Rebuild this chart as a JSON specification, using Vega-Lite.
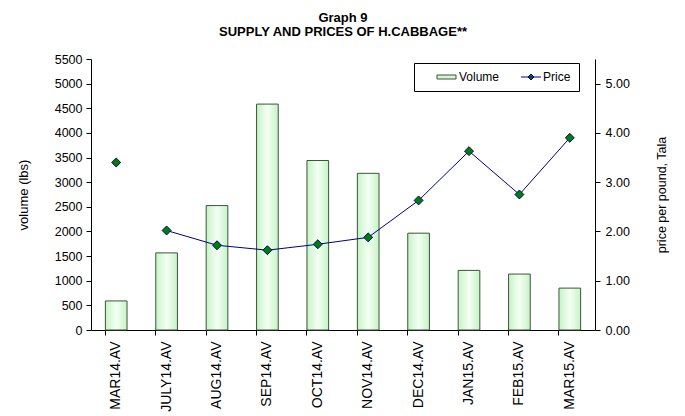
{
  "$schema": "https://vega.github.io/schema/vega-lite/v6.json",
  "autosize": "none",
  "width": 504,
  "height": 271,
  "padding": {"left": 91, "top": 59, "right": 90, "bottom": 86},
  "background": "white",
  "config": {
    "font": "Liberation Sans",
    "view": {"stroke": null},
    "axis": {"labelFont": "Liberation Sans", "titleFont": "Liberation Sans", "labelFontSize": 12.5, "titleFontSize": 13, "titleFontWeight": "normal", "labelColor": "#000", "titleColor": "#000", "domainColor": "#000", "tickColor": "#000", "grid": false, "tickSize": 5},
    "legend": {
      "orient": "none",
      "legendX": 323,
      "legendY": 4,
      "direction": "horizontal",
      "strokeColor": "#000",
      "fillColor": "#fff",
      "padding": 8,
      "columnPadding": 6,
      "symbolSize": 100,
      "symbolStrokeWidth": 1,
      "labelFont": "Liberation Sans",
      "labelFontSize": 12,
      "labelColor": "#000",
      "labelOffset": 25
    }
  },
  "title": {
    "text": ["Graph 9", "SUPPLY AND PRICES OF H.CABBAGE**"],
    "fontSize": 13,
    "fontWeight": "bold",
    "font": "Liberation Sans",
    "lineHeight": 14,
    "color": "#000",
    "anchor": "middle",
    "offset": 14
  },
  "data": {
    "values": [
      {"month": "MAR14.AV", "volume": 590, "price": 3.40},
      {"month": "JULY14.AV", "volume": 1565, "price": 2.02},
      {"month": "AUG14.AV", "volume": 2525, "price": 1.72},
      {"month": "SEP14.AV", "volume": 4585, "price": 1.62},
      {"month": "OCT14.AV", "volume": 3440, "price": 1.74},
      {"month": "NOV14.AV", "volume": 3180, "price": 1.88},
      {"month": "DEC14.AV", "volume": 1965, "price": 2.63},
      {"month": "JAN15.AV", "volume": 1210, "price": 3.63},
      {"month": "FEB15.AV", "volume": 1135, "price": 2.75},
      {"month": "MAR15.AV", "volume": 850, "price": 3.90}
    ]
  },
  "encoding": {
    "x": {
      "field": "month",
      "type": "nominal",
      "sort": null,
      "scale": {"paddingInner": 0.57, "paddingOuter": 0.285},
      "axis": {"title": null, "labelAngle": -90, "bandPosition": 0, "labelPadding": 6, "labelFontSize": 14, "ticks": true}
    }
  },
  "layer": [
    {
      "mark": {
        "type": "bar",
        "strokeWidth": 1,
        "stroke": "#3a553a",
        "fill": {"gradient": "linear", "x1": 0, "y1": 0, "x2": 1, "y2": 0, "stops": [{"offset": 0, "color": "#c6f3c6"}, {"offset": 0.5, "color": "#f4fff4"}, {"offset": 1, "color": "#c6f3c6"}]}
      },
      "encoding": {
        "y": {
          "field": "volume",
          "type": "quantitative",
          "scale": {"domain": [0, 5500], "nice": false},
          "axis": {"title": "volume (lbs)", "format": "d", "values": [0, 500, 1000, 1500, 2000, 2500, 3000, 3500, 4000, 4500, 5000, 5500], "labelPadding": 4, "titlePadding": 24}
        }
      }
    },
    {
      "layer": [
        {
          "transform": [{"filter": "datum.month !== 'MAR14.AV'"}],
          "mark": {"type": "line", "strokeWidth": 1, "stroke": "#000080"},
          "encoding": {
            "y": {"field": "price", "type": "quantitative"}
          }
        },
        {
          "mark": {"type": "point", "shape": "diamond", "filled": true, "size": 80, "strokeWidth": 1, "opacity": 1},
          "encoding": {
            "y": {"field": "price", "type": "quantitative"},
            "fill": {
              "datum": "Price",
              "scale": {"domain": ["Volume", "Price"], "range": ["#d4f7d4", "#008000"]},
              "legend": {
                "title": null,
                "symbolType": {"expr": "datum.value === 'Volume' ? 'M1.8,-0.4H5.6V0.4H1.8Z' : 'M1.8,0H5.8M3.8,-0.6L4.4,0L3.8,0.6L3.2,0Z'"}
              }
            },
            "stroke": {
              "datum": "Price",
              "scale": {"domain": ["Volume", "Price"], "range": ["#3a553a", "#000080"]},
              "legend": {
                "title": null,
                "symbolType": {"expr": "datum.value === 'Volume' ? 'M1.8,-0.4H5.6V0.4H1.8Z' : 'M1.8,0H5.8M3.8,-0.6L4.4,0L3.8,0.6L3.2,0Z'"}
              }
            }
          }
        }
      ],
      "encoding": {
        "y": {
          "field": "price",
          "type": "quantitative",
          "scale": {"domain": [0, 5.5], "nice": false},
          "axis": {"orient": "right", "title": "price per pound, Tala", "titleFontSize": 12.5, "titleAngle": -90, "format": ".2f", "values": [0, 1, 2, 3, 4, 5], "labelPadding": 5, "titlePadding": 39}
        }
      }
    }
  ],
  "resolve": {"scale": {"y": "independent"}}
}
